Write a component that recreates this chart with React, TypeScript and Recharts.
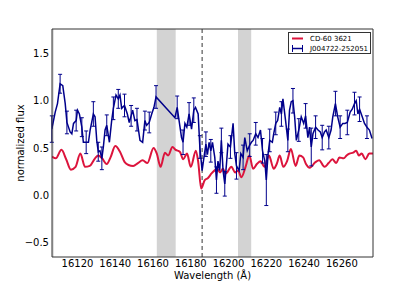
import React from "react"
import {
  ComposedChart,
  Line,
  XAxis,
  YAxis,
  ErrorBar,
  ReferenceArea,
  ReferenceLine,
} from "recharts"

// CD-60 3621 (smooth model-ish spectrum)
const redWl = [
  16106.5, 16108.5, 16111.5, 16114, 16116.5, 16119, 16121.5, 16124, 16126.5, 16129.3,
  16131, 16133, 16135.5, 16137.5, 16140, 16142.5, 16145, 16147, 16149.5, 16152,
  16154.5, 16157, 16160.3, 16162, 16164, 16166.3, 16168, 16170.3, 16172, 16174.2,
  16176, 16178, 16180, 16182.7, 16184, 16185.5, 16187.4, 16189, 16191, 16192.5,
  16194, 16195.5, 16197, 16198.5, 16201.5, 16203.5, 16205, 16206.8, 16209, 16211,
  16213, 16215, 16217, 16219, 16221.4, 16223.9, 16225.5, 16227.1, 16229, 16231,
  16233, 16235.5, 16237.5, 16239.5, 16241, 16243, 16246, 16248, 16250.8, 16253,
  16255, 16257, 16258.7, 16261, 16262.5, 16264, 16266, 16267.6, 16269, 16270.5,
  16272.5, 16274.5, 16276.5,
]
const redFlux = [
  0.41, 0.39, 0.48, 0.38, 0.27, 0.3, 0.44, 0.3, 0.31, 0.39,
  0.42, 0.39, 0.33, 0.4, 0.52, 0.46, 0.35, 0.32, 0.31, 0.34,
  0.37, 0.34, 0.5, 0.44, 0.3, 0.45, 0.42, 0.51, 0.48, 0.46,
  0.38, 0.44, 0.3, 0.47, 0.34, 0.07, 0.16, 0.18, 0.23, 0.26,
  0.28, 0.24, 0.28, 0.23, 0.3, 0.24, 0.26, 0.19, 0.3, 0.42,
  0.28, 0.33, 0.36, 0.3, 0.42, 0.28, 0.33, 0.42, 0.3, 0.36,
  0.49, 0.31, 0.42, 0.4, 0.33, 0.29, 0.35, 0.37, 0.3, 0.34,
  0.38, 0.34, 0.4, 0.39, 0.42, 0.44, 0.45, 0.47, 0.42, 0.44,
  0.38, 0.44, 0.44,
]

// J004722-252051 (observed, with errors; 0 = no bar drawn)
const blueWl = [
  16106.4, 16108.2, 16109.4, 16110.8, 16112.2, 16113.5, 16114.4, 16116.1, 16117, 16117.9,
  16119.3, 16120, 16121, 16122.3, 16123.1, 16124.6, 16125.8, 16126.7, 16128.4, 16129.3,
  16130.2, 16131, 16131.9, 16132.9, 16133.7, 16134.6, 16135.5, 16136.9, 16138.1, 16139,
  16140.4, 16141.6, 16142.5, 16143.4, 16144.9, 16146.4, 16147.4, 16148.4, 16149.2, 16150.4,
  16151.5, 16153.1, 16154.5, 16155.7, 16156.6, 16158, 16159.3, 16160.5, 16161.6, 16171.6,
  16172.8, 16173.8, 16175.1, 16175.9, 16176.9, 16177.9, 16179.1, 16180.4, 16181.6, 16182.5,
  16183.9, 16184.8, 16186, 16186.7, 16188, 16188.8, 16189.7, 16190.6, 16191.5, 16192.7,
  16193.6, 16194.4, 16195.3, 16196.2, 16197.1, 16198, 16198.9, 16199.7, 16201, 16202.4,
  16203.3, 16204.2, 16205.6, 16206.5, 16207.7, 16208.6, 16209.9, 16211.2, 16212.1, 16213,
  16214.4, 16215.6, 16216.9, 16218, 16219.2, 16220, 16220.9, 16221.8, 16223.2, 16223.9,
  16225, 16226, 16227.1, 16228, 16228.8, 16230.2, 16231.4, 16232.3, 16233.2, 16234.1,
  16235, 16235.9, 16237.2, 16238.5, 16239.8, 16240.8, 16242, 16242.9, 16243.8, 16244.7,
  16246.1, 16247.4, 16248.6, 16249.6, 16250.8, 16251.7, 16253.1, 16254.3, 16255.2, 16256.6,
  16257.8, 16259.1, 16260.5, 16261.6, 16262.9, 16264.4, 16265.5, 16266.7, 16267.6, 16268.5,
  16269.4, 16270.8, 16272, 16273.3, 16274.6, 16276,
]
const blueFlux = [
  0.7, 0.88, 0.97, 1.18, 1.16, 0.97, 0.77, 0.67, 0.65, 0.76,
  0.79, 0.9, 0.86, 0.72, 0.56, 0.56, 0.56, 0.69, 0.86, 0.83,
  0.58, 0.46, 0.47, 0.39, 0.51, 0.69, 0.74, 0.56, 0.79, 0.92,
  1.06, 1.02, 1.06, 0.92, 0.95, 0.86, 0.77, 0.84, 0.9, 0.79,
  0.8, 0.58, 0.56, 0.79, 0.74, 0.77, 0.86, 0.93, 1.04, 0.82,
  0.93, 0.79, 0.61, 0.56, 0.76, 0.72, 0.86, 0.7, 0.9, 0.93,
  0.86, 0.51, 0.26, 0.36, 0.54, 0.43, 0.56, 0.47, 0.56, 0.4,
  0.16, 0.36, 0.26, 0.58, 0.26, 0.12, 0.33, 0.54, 0.51, 0.76,
  0.44, 0.31, 0.26, 0.44, 0.4, 0.61, 0.47, 0.53, 0.56, 0.58,
  0.65, 0.61, 0.69, 0.47, 0.36, 0.16, 0.43, 0.58, 0.56, 0.65,
  0.76, 0.79, 0.93, 0.86, 1.02, 0.79, 0.58, 0.9, 0.99, 1.0,
  0.83, 0.58, 0.69, 0.83, 0.76, 0.84, 0.61, 0.72, 0.51, 0.65,
  0.72, 0.69, 0.67, 0.61, 0.67, 0.69, 0.61, 0.69, 0.83, 0.97,
  0.83, 0.72, 0.76, 0.76, 0.77, 0.88, 0.91, 0.97, 1.0, 0.86,
  0.91, 0.83, 0.76, 0.72, 0.69, 0.6,
]
const blueErr = [
  0.14, 0, 0, 0.1, 0, 0, 0.12, 0, 0, 0,
  0.11, 0, 0, 0.1, 0, 0.12, 0, 0, 0.13, 0,
  0, 0.1, 0, 0.12, 0, 0, 0.11, 0, 0, 0.12,
  0, 0.1, 0, 0, 0.12, 0, 0, 0.11, 0, 0,
  0.12, 0, 0, 0.1, 0, 0.11, 0, 0, 0.12, 0,
  0.12, 0, 0, 0.13, 0, 0, 0.12, 0, 0.13, 0,
  0, 0.12, 0, 0, 0.13, 0, 0, 0.12, 0, 0,
  0.14, 0, 0, 0.13, 0, 0.13, 0, 0, 0.12, 0,
  0, 0.14, 0, 0, 0.13, 0, 0, 0.12, 0, 0,
  0.12, 0, 0, 0.13, 0, 0.27, 0, 0.12, 0, 0,
  0.12, 0, 0, 0.13, 0, 0, 0.12, 0, 0, 0.13,
  0, 0, 0.12, 0, 0, 0.13, 0, 0, 0.2, 0,
  0.12, 0, 0, 0.13, 0, 0, 0.12, 0, 0, 0.13,
  0, 0.12, 0, 0, 0.13, 0, 0, 0.12, 0, 0,
  0.13, 0, 0, 0.12, 0, 0,
]

const xTicks = [16120, 16140, 16160, 16180, 16200, 16220, 16240, 16260]
const yTicks = [-0.5, 0, 0.5, 1, 1.5]
const bands: [number, number][] = [
  [16100, 16107.4],
  [16162, 16172],
  [16205, 16212],
]
const featureLine = 16186

const redData = redWl.map((wl, i) => ({ wl, flux: redFlux[i] }))
const blueData = blueWl.map((wl, i) => ({ wl, flux: blueFlux[i], err: blueErr[i] }))

const X_DOMAIN: [number, number] = [16106.5, 16276.5]
const Y_DOMAIN: [number, number] = [-0.655, 1.76]
const FONT = "'DejaVu Sans', sans-serif"
const RED = "#dc143c"
const BLUE = "#00008b"
const AXIS = "#333"

const fmtY = (v: number) => (v < 0 ? "\u2212" + Math.abs(v).toFixed(1) : v.toFixed(1))

export default function App() {
  return (
    <div style={{ position: "absolute", left: 0, top: 0, width: 415, height: 286, background: "#fff", fontFamily: FONT }}>
      <ComposedChart width={415} height={286} margin={{ top: 29, right: 42, bottom: 9, left: 8 }}>
        {bands.map(([a, b]) => (
          <ReferenceArea key={a} x1={a} x2={b} fill="#d3d3d3" fillOpacity={1} stroke="none" ifOverflow="hidden" />
        ))}
        <ReferenceLine x={featureLine} stroke="#000" strokeWidth={0.8} strokeDasharray="4 3" />

        <XAxis
          dataKey="wl"
          type="number"
          domain={X_DOMAIN}
          allowDataOverflow
          ticks={xTicks}
          height={20}
          tickLine={false}
          tickSize={0}
          tickMargin={3}
          stroke={AXIS}
          tick={{ fill: "#000", fontSize: 10, fontFamily: FONT }}
        />
        <XAxis xAxisId="bin" type="number" domain={X_DOMAIN} allowDataOverflow ticks={xTicks} mirror tick={false} axisLine={false} tickSize={4} stroke={AXIS} />
        <XAxis xAxisId="top" orientation="top" type="number" domain={X_DOMAIN} allowDataOverflow ticks={xTicks} mirror tick={false} tickSize={4} stroke={AXIS} />

        <YAxis
          type="number"
          domain={Y_DOMAIN}
          allowDataOverflow
          ticks={yTicks}
          width={44}
          tickLine={false}
          tickSize={0}
          tickMargin={3}
          tickFormatter={fmtY}
          stroke={AXIS}
          tick={{ fill: "#000", fontSize: 10, fontFamily: FONT }}
        />
        <YAxis yAxisId="lin" type="number" domain={Y_DOMAIN} allowDataOverflow ticks={yTicks} mirror tick={false} axisLine={false} tickSize={4} stroke={AXIS} />
        <YAxis yAxisId="right" orientation="right" type="number" domain={Y_DOMAIN} allowDataOverflow ticks={yTicks} mirror tick={false} tickSize={4} stroke={AXIS} />

        <Line
          data={redData}
          dataKey="flux"
          type="monotone"
          stroke={RED}
          strokeWidth={2}
          dot={false}
          isAnimationActive={false}
        />
        <Line
          data={blueData}
          dataKey="flux"
          type="linear"
          stroke={BLUE}
          strokeWidth={1.5}
          dot={false}
          isAnimationActive={false}
        >
          <ErrorBar dataKey="err" direction="y" width={2} stroke={BLUE} strokeWidth={1} isAnimationActive={false} />
        </Line>
      </ComposedChart>

      {/* axis titles */}
      <div style={{ position: "absolute", left: 0, width: 425, top: 270, textAlign: "center", fontSize: 10, color: "#000", whiteSpace: "nowrap" }}>
        Wavelength (Å)
      </div>
      <div
        style={{
          position: "absolute",
          left: 20,
          top: 143,
          fontSize: 10,
          color: "#000",
          whiteSpace: "nowrap",
          transform: "translate(-50%, -50%) rotate(-90deg)",
        }}
      >
        normalized flux
      </div>

      {/* legend */}
      <div
        style={{
          position: "absolute",
          left: 288,
          top: 32,
          width: 83,
          height: 22,
          border: `1px solid ${AXIS}`,
          background: "#fff",
          boxSizing: "border-box",
          fontSize: 7,
          color: "#000",
          whiteSpace: "nowrap",
        }}
      >
        <div style={{ position: "absolute", left: 2, top: 1, display: "flex", alignItems: "center", height: 9 }}>
          <svg width={13} height={9}>
            <line x1={1} y1={4.5} x2={12} y2={4.5} stroke={RED} strokeWidth={2} />
          </svg>
          <span style={{ marginLeft: 6 }}>CD-60 3621</span>
        </div>
        <div style={{ position: "absolute", left: 2, top: 11, display: "flex", alignItems: "center", height: 9 }}>
          <svg width={13} height={9}>
            <line x1={1} y1={4.5} x2={12} y2={4.5} stroke={BLUE} strokeWidth={1.5} />
            <line x1={1.5} y1={1} x2={1.5} y2={8} stroke={BLUE} strokeWidth={1} />
            <line x1={11.5} y1={1} x2={11.5} y2={8} stroke={BLUE} strokeWidth={1} />
          </svg>
          <span style={{ marginLeft: 6 }}>J004722-252051</span>
        </div>
      </div>
    </div>
  )
}
